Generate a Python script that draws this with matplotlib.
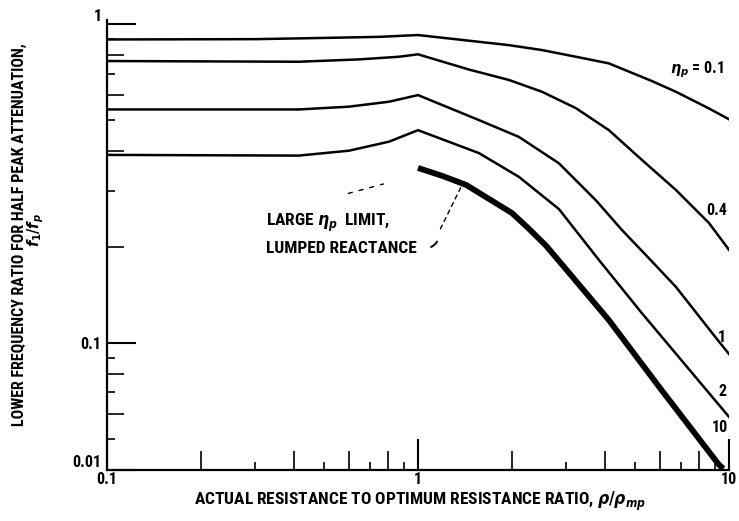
import matplotlib
matplotlib.use("Agg")
import matplotlib.pyplot as plt
from matplotlib.ticker import NullLocator, FixedLocator

# curve data (x = rho/rho_mp, y = f1/fp)
x_01 = [0.1, 0.3, 0.5, 0.75, 1.0, 1.46, 1.962, 2.505, 3.22, 4.11, 5.65, 6.75, 8.62, 10.0]
y_01 = [0.895, 0.897, 0.905, 0.912, 0.924, 0.887, 0.859, 0.829, 0.790, 0.753, 0.663, 0.6135, 0.544, 0.503]

x_04 = [0.1, 0.414, 0.646, 0.869, 1.0, 1.46, 1.962, 2.505, 3.22, 4.11, 5.25, 6.75, 8.62, 10.0]
y_04 = [0.766, 0.762, 0.775, 0.79, 0.804, 0.72, 0.668, 0.6135, 0.545, 0.465, 0.375, 0.302, 0.238, 0.196]

x_1 = [0.1, 0.414, 0.6, 0.807, 1.0, 1.571, 2.11, 2.84, 3.727, 4.53, 5.60, 6.75, 9.07, 10.0]
y_1 = [0.54, 0.54, 0.551, 0.571, 0.599, 0.50, 0.443, 0.366, 0.2807, 0.226, 0.182, 0.150, 0.104, 0.0924]

x_2 = [0.1, 0.414, 0.6, 0.807, 1.0, 1.571, 2.11, 2.84, 3.82, 5.25, 10.0]
y_2 = [0.389, 0.387, 0.401, 0.428, 0.465, 0.394, 0.332, 0.263, 0.182, 0.124, 0.0587]

# large eta_p limit, lumped reactance (thick curve)
x_lim = [1.0, 1.2, 1.43, 2.006, 2.275, 2.58, 3.06, 4.11, 5.96, 9.29, 9.6]
y_lim = [0.354, 0.334, 0.313, 0.2556, 0.228, 0.202, 0.166, 0.118, 0.0729, 0.0415, 0.0404]

curve_labels = ["$\\eta_p$ = 0.1", "0.4", "1", "2", "10"]
label_x = [7.9, 9.1, 9.5, 9.5, 9.36]
label_y = [0.718, 0.261, 0.1042, 0.0704, 0.0543]

plt.rcParams['font.family'] = ['Roboto Condensed', 'Liberation Sans Narrow', 'DejaVu Sans']
plt.rcParams['font.stretch'] = 'condensed'
plt.rcParams['font.weight'] = 'bold'
plt.rcParams['mathtext.fontset'] = 'dejavusans'

fig = plt.figure(figsize=(7.39, 5.21), dpi=100)
ax = fig.add_axes([107 / 739, 51 / 521, 622 / 739, 450 / 521])
ax.set_xscale('log')
ax.set_yscale('log')
ax.set_xlim(0.1, 10)
ax.set_ylim(0.04, 1.03)

thin = dict(color='black', lw=1.8, solid_joinstyle='round')
ax.plot(x_01, y_01, **thin)
ax.plot(x_04, y_04, **thin)
ax.plot(x_1, y_1, **thin)
ax.plot(x_2, y_2, **thin)
ax.plot(x_lim, y_lim, color='black', lw=4.2, solid_capstyle='butt',
        solid_joinstyle='round', clip_on=False)

for txt, lx, ly in zip(curve_labels, label_x, label_y):
    ax.text(lx, ly, txt, fontsize=11.5, ha='center', va='center')

# annotation for the thick curve
ax.text(0.3245, 0.238, "LARGE $\\eta_p$  LIMIT,", fontsize=12.5, ha='left', va='center')
ax.text(0.3245, 0.198, "LUMPED REACTANCE", fontsize=12.5, ha='left', va='center')
ax.annotate('', xy=(1.385, 0.313), xytext=(1.17, 0.224),
            arrowprops=dict(arrowstyle='-', lw=1.0, linestyle=(0, (3, 3))))
ax.annotate('', xy=(1.16, 0.212), xytext=(1.08, 0.199),
            arrowprops=dict(arrowstyle='-', lw=1.4, connectionstyle='arc3,rad=0.3'))
ax.annotate('', xy=(0.79, 0.317), xytext=(0.585, 0.293),
            arrowprops=dict(arrowstyle='-', lw=1.0, linestyle=(0, (3, 5))))

# spines
for s in ['top', 'right']:
    ax.spines[s].set_visible(False)
for s in ['left', 'bottom']:
    ax.spines[s].set_linewidth(1.6)

# major + even minor ticks on main axis
ax.xaxis.set_major_locator(FixedLocator([0.1, 1, 10]))
ax.set_xticklabels(['0.1', '1', '10'])
ax.xaxis.set_minor_locator(FixedLocator([0.2, 0.4, 0.6, 0.8, 2, 4, 6, 8]))
ax.yaxis.set_major_locator(FixedLocator([0.04, 0.1, 1]))
ax.set_yticklabels(['0.01', '0.1', '1'])
ax.yaxis.set_minor_locator(FixedLocator([0.06, 0.08, 0.2, 0.4, 0.6, 0.8]))
ax.tick_params(axis='x', which='major', direction='in', length=22, width=1.5, pad=1.5, labelsize=11.5)
ax.tick_params(axis='x', which='minor', direction='in', length=13.5, width=1.2)
ax.tick_params(axis='y', which='major', direction='in', length=21, width=1.5, pad=4, labelsize=11.5)
ax.tick_params(axis='y', which='minor', direction='in', length=12.2, width=1.2)
ylabels = ax.get_yticklabels()
ylabels[0].set_va('bottom')
ylabels[2].set_va('bottom')

# short odd ticks
secx = ax.secondary_xaxis('bottom')
secx.xaxis.set_major_locator(FixedLocator([0.3, 0.5, 0.7, 0.9, 3, 5, 7, 9]))
secx.xaxis.set_minor_locator(NullLocator())
secx.tick_params(direction='in', length=5.8, width=1.2, labelbottom=False)
secx.spines['bottom'].set_visible(False)

secy = ax.secondary_yaxis('left')
secy.yaxis.set_major_locator(FixedLocator([0.05, 0.07, 0.09, 0.3, 0.5, 0.7, 0.9]))
secy.yaxis.set_minor_locator(NullLocator())
secy.tick_params(direction='in', length=5.8, width=1.2, labelleft=False)
secy.spines['left'].set_visible(False)

# axis titles
fig.text(420 / 739, 1 - 501 / 521,
         "ACTUAL RESISTANCE TO OPTIMUM RESISTANCE RATIO, $\\rho/\\rho_{mp}$",
         fontsize=12.5, ha='center', va='center')
fig.text(19 / 739, 1 - 235 / 521, "LOWER FREQUENCY RATIO FOR HALF PEAK ATTENUATION,",
         fontsize=11.5, rotation=90, ha='center', va='center')
fig.text(36 / 739, 1 - 230 / 521, "$f_1/f_p$", fontsize=11.5, rotation=90,
         ha='center', va='center')

fig.savefig('out.png', dpi=100)
